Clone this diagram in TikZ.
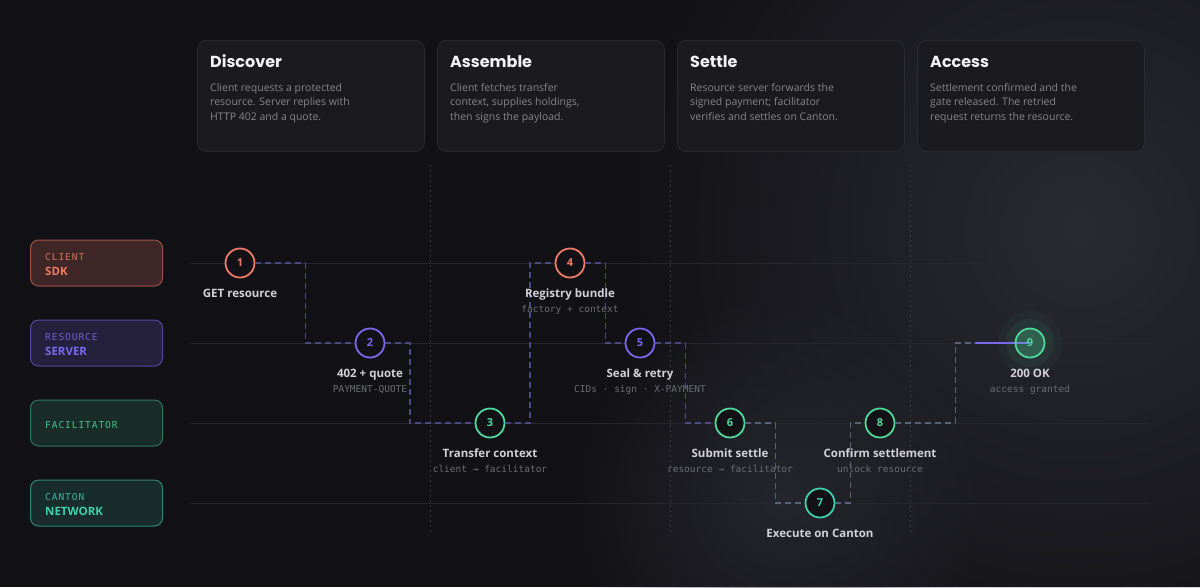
\documentclass[tikz,border=0pt]{standalone}
\usepackage{fontspec}
\setmainfont{Open Sans}
\newfontfamily\headFont{Poppins}
\newfontfamily\codeFont{DejaVu Sans Mono}
\newfontfamily\laneFont[LetterSpace=10]{DejaVu Sans Mono}
\usetikzlibrary{fadings}
\tikzfading[name=glowFade,inner color=transparent!0,outer color=transparent!100]
\definecolor{bgColor}{HTML}{121216}
\definecolor{bgGlow}{HTML}{2A2A33}
\definecolor{cardFill}{HTML}{1A1A1F}
\definecolor{cardEdge}{HTML}{2B2B32}
\definecolor{cardHead}{HTML}{F3F3F5}
\definecolor{cardBody}{HTML}{85858C}
\definecolor{laneLine}{HTML}{26262D}
\definecolor{phaseLine}{HTML}{3A3A44}
\definecolor{clientRed}{HTML}{F07A68}
\definecolor{serverPurple}{HTML}{7B68EE}
\definecolor{facilGreen}{HTML}{4ED99C}
\definecolor{cantonTeal}{HTML}{3FCFAE}
\definecolor{labelText}{HTML}{D2D2D6}
\definecolor{noteText}{HTML}{6C6C74}
\definecolor{flowPurple}{HTML}{4C4A82}
\definecolor{flowGrey}{HTML}{5A6278}
\newcommand{\phaseCard}[4]{%%
  %% The card itself.
  \node[cardStyle] (#1) at (#2,40) {};
  %% Its heading and its text.
  \node[cardTitleStyle] (#1Title) at (#2+13,67.7) {#3};
  \node[cardTextStyle] (#1Text) at (#2+13,83) {#4};
}
\newcommand{\laneTag}[6]{%%
  %% name, y, text colour, fill colour, upper text, lower text
  \node[laneBoxStyle,draw=#3!62!bgColor,fill=#4] (#1) at (96.5,#2) {};
  \node[laneSmallStyle,text=#3!88!bgColor] (#1Upper) at (45,#2-2.3) {#5};
  \node[laneBigStyle,text=#3] (#1Lower) at (45,#2+12.7) {#6};
}
\newcommand{\flowStep}[4]{%%
  %% number, x, y, colour
  \node[stepStyle,draw=#4,text=#4] (s#1) at (#2,#3) {#1};
}
\newcommand{\stepTitle}[2]{%%
  \node[stepTitleStyle] (t#1) at ([yshift=-34.5pt]s#1.center) {#2};
}
\newcommand{\stepNote}[2]{%%
  \node[stepNoteStyle] (n#1) at ([yshift=-49.5pt]s#1.center) {#2};
}

\begin{document}
\begin{tikzpicture}[%%
  x=1pt,y=-1pt,
  cardStyle/.style={draw=cardEdge,fill=cardFill,line width=0.8pt,rounded corners=9pt,
    anchor=north west,minimum width=227pt,minimum height=111pt,inner sep=0pt},%%
  cardTitleStyle/.style={anchor=base west,inner sep=0pt,text=cardHead,
    font=\headFont\bfseries\fontsize{16}{18}\selectfont},%%
  cardTextStyle/.style={anchor=north west,inner sep=0pt,align=left,text=cardBody,
    font=\fontsize{10.5}{14.7}\selectfont},%%
  laneBoxStyle/.style={line width=1pt,rounded corners=8pt,minimum width=132pt,
    minimum height=46pt,inner sep=0pt},%%
  laneSmallStyle/.style={anchor=base west,inner sep=0pt,font=\laneFont\fontsize{9.5}{10}\selectfont},%%
  laneBigStyle/.style={anchor=base west,inner sep=0pt,font=\bfseries\fontsize{11.5}{12}\selectfont},%%
  laneLineStyle/.style={draw=laneLine,line width=0.8pt},%%
  phaseLineStyle/.style={draw=phaseLine,line width=0.8pt,dash pattern=on 2pt off 3pt},%%
  flowStyle/.style={draw=flowPurple,line width=1.6pt,dash pattern=on 6pt off 4pt},%%
  stepStyle/.style={circle,fill=bgColor,line width=1.8pt,minimum size=29pt,inner sep=0pt,
    font=\bfseries\fontsize{11}{11}\selectfont},%%
  stepTitleStyle/.style={anchor=base,inner sep=0pt,text=labelText,
    font=\bfseries\fontsize{11.5}{12}\selectfont},%%
  stepNoteStyle/.style={anchor=base,inner sep=0pt,text=noteText,
    font=\codeFont\fontsize{9.5}{10}\selectfont}
]
%%
%% The background, with a soft light on the right.
\useasboundingbox (0,0) rectangle (1200,587);
\fill[bgColor] (0,0) rectangle (1200,587);
\begin{scope}
  \clip (0,0) rectangle (1200,587);
  \fill[bgGlow,path fading=glowFade] (1080,230) circle (460);
  \fill[bgGlow,path fading=glowFade,opacity=0.8] (780,500) circle (210);
\end{scope}
%%
%% The four phases.
\phaseCard{discover}{197}{Discover}{Client requests a protected\\resource. Server replies with\\HTTP 402 and a quote.}
\phaseCard{assemble}{437}{Assemble}{Client fetches transfer\\context, supplies holdings,\\then signs the payload.}
\phaseCard{settle}{677}{Settle}{Resource server forwards the\\signed payment; facilitator\\verifies and settles on Canton.}
\phaseCard{access}{917}{Access}{Settlement confirmed and the\\gate released. The retried\\request returns the resource.}
%%
%% Phase borders and swim lanes.
\foreach \px in {430,670,910}
  \draw[phaseLineStyle] (\px,165) -- (\px,535);
\foreach \ly in {263,343,423,503}
  \draw[laneLineStyle] (190,\ly) -- (1150,\ly);
%%
%% The lane tags.
\laneTag{client}{263}{clientRed}{clientRed!20!bgColor}{CLIENT}{SDK}
\laneTag{server}{343}{serverPurple}{serverPurple!18!bgColor}{RESOURCE}{SERVER}
\node[laneBoxStyle,draw=facilGreen!50!bgColor,fill=facilGreen!13!bgColor] (facil) at (96.5,423) {};
\node[laneSmallStyle,text=facilGreen!88!bgColor] (facilUpper) at (45,428.5) {FACILITATOR};
\laneTag{canton}{503}{cantonTeal}{cantonTeal!14!bgColor}{CANTON}{NETWORK}
%%
%% The step circles.
\flowStep{1}{240}{263}{clientRed}
\flowStep{2}{370}{343}{serverPurple}
\flowStep{3}{490}{423}{facilGreen}
\flowStep{4}{570}{263}{clientRed}
\flowStep{5}{640}{343}{serverPurple}
\flowStep{6}{730}{423}{facilGreen}
\flowStep{7}{820}{503}{cantonTeal}
\flowStep{8}{880}{423}{facilGreen}
%%
%% The flow between the steps.
\draw[flowStyle] (s1.east) -- ++(50,0) |- (s2.west);
\draw[flowStyle] (s2.east) -- ++(24.5,0) |- (s3.west);
\draw[flowStyle] (s3.east) -- ++(24.5,0) |- (s4.west);
\draw[flowStyle] (s4.east) -- ++(20,0) |- (s5.west);
\draw[flowStyle] (s5.east) -- ++(30,0) |- (s6.west);
\draw[flowStyle,draw=flowGrey] (s6.east) -- ++(30,0) |- (s7.west);
\draw[flowStyle,draw=flowGrey] (s7.east) -- ++(15,0) |- (s8.west);
%%
%% The last step, lit up.
\coordinate (grant) at (955.5,343);
\fill[facilGreen,opacity=0.07] (1030,343) circle (24);
\fill[facilGreen,opacity=0.04] (1030,343) circle (32);
\draw[flowStyle,draw=flowGrey] (s8.east) -- (s8.east -| grant) -- (grant) -- ++(20,0);
\draw[serverPurple,line width=2.6pt] (975,343) -- (1030,343);
\node[stepStyle,draw=facilGreen,text=facilGreen,fill=facilGreen,fill opacity=0.25,text opacity=1] (s9) at (1030,343) {9};
%%
%% The step labels.
\stepTitle{1}{GET resource}
\stepTitle{2}{402 + quote}
\stepNote{2}{PAYMENT-QUOTE}
\stepTitle{3}{Transfer context}
\stepNote{3}{client → facilitator}
\stepTitle{4}{Registry bundle}
\stepNote{4}{factory + context}
\stepTitle{5}{Seal \& retry}
\stepNote{5}{CIDs · sign · X-PAYMENT}
\stepTitle{6}{Submit settle}
\stepNote{6}{resource → facilitator}
\stepTitle{7}{Execute on Canton}
\stepTitle{8}{Confirm settlement}
\stepNote{8}{unlock resource}
\stepTitle{9}{200 OK}
\stepNote{9}{access granted}
\end{tikzpicture}
\end{document}
